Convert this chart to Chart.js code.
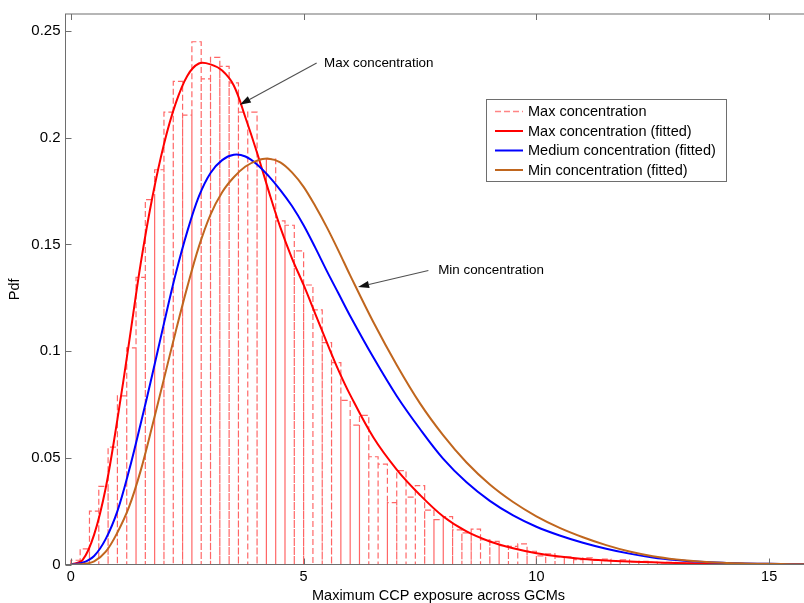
<!DOCTYPE html>
<html>
<head>
<meta charset="utf-8">
<script src="https://cdn.jsdelivr.net/npm/chart.js@4/dist/chart.umd.min.js"></script>
<style>
  html, body { margin: 0; padding: 0; background: #fff; width: 804px; height: 603px; overflow: hidden; }
  canvas { display: block; }
</style>
</head>
<body>
<canvas id="pdfChart" width="830" height="603"></canvas>
<script>
// Histogram of maximum CCP exposure (max concentration), bins of width 0.2 starting at 0
const binStart = 0;
const binWidth = 0.2;
const maxConcHist = [
  0.002, 0.0073, 0.025, 0.0366, 0.055, 0.079, 0.1015, 0.1346, 0.171, 0.185,
  0.212, 0.2264, 0.2106, 0.245, 0.2276, 0.2377, 0.2335, 0.2257, 0.212, 0.212,
  0.190, 0.190, 0.161, 0.159, 0.147, 0.131, 0.1193, 0.104, 0.0946, 0.0769,
  0.0653, 0.0699, 0.0505, 0.047, 0.029, 0.044, 0.0316, 0.037, 0.0255, 0.021,
  0.0224, 0.0162, 0.0148, 0.0166, 0.0116, 0.0108, 0.0088, 0.0085, 0.0097, 0.0062,
  0.004, 0.005, 0.0036, 0.0036, 0.0023, 0.0031, 0.002, 0.0025, 0.0018, 0.0022,
  0.0012, 0.0015, 0.001, 0.0008, 0.001, 0.0005, 0.0006, 0.0003, 0.0004, 0.0002,
  0.0002, 0.0001, 0.0001, 0.0001, 0.0001
];

// Fitted density curves, sampled at fitX
const fitX = [
  0, 0.25, 0.5, 0.75, 1, 1.25, 1.5, 1.75, 2, 2.25, 2.5, 2.75, 3, 3.25, 3.5, 3.75,
  4, 4.25, 4.5, 4.75, 5, 5.25, 5.5, 5.75, 6, 6.5, 7, 7.5, 8, 8.5, 9, 9.5,
  10, 10.5, 11, 11.5, 12, 12.5, 13, 13.5, 14, 14.5, 15, 15.5, 15.9
];
const maxConcFit = [
  0, 0.002, 0.014, 0.036, 0.068, 0.104, 0.141, 0.172, 0.197, 0.216, 0.229, 0.2348, 0.2344, 0.2315, 0.2245, 0.2095,
  0.193, 0.175, 0.158, 0.1435, 0.131, 0.1175, 0.104, 0.091, 0.0795, 0.0595, 0.0445, 0.0326, 0.0225, 0.0155, 0.0108, 0.0076,
  0.0053, 0.0037, 0.0026, 0.0019, 0.0014, 0.001, 0.0007, 0.0005, 0.0003, 0.0002, 0.00012, 0.00008, 0.00005
];
const medConcFit = [
  0, 0.0008, 0.004, 0.012, 0.025, 0.044, 0.066, 0.089, 0.113, 0.136, 0.156, 0.1725, 0.1835, 0.1895, 0.192, 0.1912,
  0.1875, 0.182, 0.1755, 0.168, 0.159, 0.1485, 0.1375, 0.127, 0.1165, 0.097, 0.079, 0.0635, 0.0495, 0.0385, 0.0298, 0.023,
  0.0177, 0.0136, 0.0102, 0.0074, 0.0051, 0.0033, 0.0021, 0.0013, 0.0008, 0.0005, 0.0003, 0.00015, 0.00008
];
const minConcFit = [
  0, 0.0002, 0.0015, 0.006, 0.015, 0.027, 0.044, 0.065, 0.087, 0.109, 0.130, 0.149, 0.164, 0.1745, 0.1815, 0.1865,
  0.1893, 0.1902, 0.1885, 0.1838, 0.177, 0.168, 0.158, 0.147, 0.1355, 0.1135, 0.0935, 0.0755, 0.0605, 0.0478, 0.0375, 0.0293,
  0.0226, 0.0172, 0.0128, 0.0091, 0.0061, 0.0039, 0.0024, 0.0014, 0.0008, 0.0005, 0.0003, 0.00015, 0.00008
];

const xTicks = [0, 5, 10, 15];
const yTicks = [0, 0.05, 0.1, 0.15, 0.2, 0.25];
const seriesLabels = [
  'Max concentration',
  'Max concentration (fitted)',
  'Medium concentration (fitted)',
  'Min concentration (fitted)'
];

const FONT = "'Liberation Sans', Arial, Helvetica, sans-serif";
const HIST_COLOR = 'rgba(255, 75, 75, 0.85)';
const FRAME_COLOR = '#6e6e6e';

// Outline of every histogram bar as one dashed path: up, across, down
const histOutline = [];
maxConcHist.forEach((h, i) => {
  const x0 = binStart + i * binWidth;
  const x1 = x0 + binWidth;
  histOutline.push({ x: x0, y: 0 }, { x: x0, y: h }, { x: x1, y: h }, { x: x1, y: 0 });
});
const curve = ys => fitX.map((x, i) => ({ x, y: ys[i] }));

// Axes box with inward tick marks
const framePlugin = {
  id: 'frame',
  afterDatasetsDraw(chart) {
    const { ctx, chartArea: a, scales: { x, y } } = chart;
    ctx.save();
    ctx.strokeStyle = FRAME_COLOR;
    ctx.lineWidth = 1;
    ctx.strokeRect(a.left, a.top, a.right - a.left, a.bottom - a.top);
    ctx.beginPath();
    xTicks.forEach(v => {
      const px = Math.round(x.getPixelForValue(v)) + 0.5;
      ctx.moveTo(px, a.bottom); ctx.lineTo(px, a.bottom - 6);
      ctx.moveTo(px, a.top); ctx.lineTo(px, a.top + 6);
    });
    yTicks.forEach(v => {
      const py = Math.round(y.getPixelForValue(v)) + 0.5;
      ctx.moveTo(a.left, py); ctx.lineTo(a.left + 6, py);
      ctx.moveTo(a.right, py); ctx.lineTo(a.right - 6, py);
    });
    ctx.stroke();
    ctx.restore();
  }
};

// Legend box and arrow call-outs
const notesPlugin = {
  id: 'notes',
  afterDraw(chart, args, opts) {
    const { ctx, scales: { x, y } } = chart;
    ctx.save();

    // arrows with text
    ctx.font = `13.4px ${FONT}`;
    ctx.textBaseline = 'middle';
    ctx.textAlign = 'left';
    opts.callouts.forEach(c => {
      const fx = x.getPixelForValue(c.from[0]), fy = y.getPixelForValue(c.from[1]);
      const tx = x.getPixelForValue(c.to[0]), ty = y.getPixelForValue(c.to[1]);
      const ang = Math.atan2(ty - fy, tx - fx);
      const headLen = 11, headHalf = 3.6;
      const bx = tx - headLen * Math.cos(ang), by = ty - headLen * Math.sin(ang);
      ctx.strokeStyle = '#505050';
      ctx.lineWidth = 1.1;
      ctx.beginPath(); ctx.moveTo(fx, fy); ctx.lineTo(bx, by); ctx.stroke();
      ctx.fillStyle = '#111';
      ctx.beginPath();
      ctx.moveTo(tx, ty);
      ctx.lineTo(bx + headHalf * Math.sin(ang), by - headHalf * Math.cos(ang));
      ctx.lineTo(bx - headHalf * Math.sin(ang), by + headHalf * Math.cos(ang));
      ctx.closePath(); ctx.fill();
      ctx.fillStyle = '#000';
      ctx.fillText(c.text, x.getPixelForValue(c.at[0]), y.getPixelForValue(c.at[1]));
    });

    // legend
    const L = opts.legend;
    ctx.fillStyle = '#fff';
    ctx.fillRect(L.left, L.top, L.width, L.height);
    ctx.strokeStyle = FRAME_COLOR;
    ctx.lineWidth = 1;
    ctx.strokeRect(L.left + 0.5, L.top + 0.5, L.width, L.height);
    ctx.font = `14.5px ${FONT}`;
    chart.data.datasets.forEach((ds, i) => {
      const ry = L.top + L.firstRow + i * L.rowStep;
      ctx.save();
      ctx.strokeStyle = ds.legendColor || ds.borderColor;
      ctx.lineWidth = ds.legendWidth || ds.borderWidth;
      ctx.setLineDash(ds.borderDash || []);
      ctx.beginPath();
      ctx.moveTo(L.left + 9, ry); ctx.lineTo(L.left + 37, ry);
      ctx.stroke();
      ctx.restore();
      ctx.fillStyle = '#000';
      ctx.fillText(ds.label, L.left + 42, ry + 0.5);
    });
    ctx.restore();
  }
};

const smooth = { showLine: true, pointRadius: 0, borderWidth: 2, tension: 0.35 };

new Chart(document.getElementById('pdfChart'), {
  type: 'scatter',
  data: {
    datasets: [
      { label: seriesLabels[0], data: histOutline, showLine: true, borderColor: HIST_COLOR,
        legendColor: 'rgba(255,120,120,0.9)', borderWidth: 1.2, borderDash: [6, 3], legendWidth: 1.5,
        pointRadius: 0, tension: 0, order: 4 },
      { ...smooth, label: seriesLabels[1], data: curve(maxConcFit), borderColor: '#ff0000', order: 3 },
      { ...smooth, label: seriesLabels[2], data: curve(medConcFit), borderColor: '#0000ff', order: 2 },
      { ...smooth, label: seriesLabels[3], data: curve(minConcFit), borderColor: '#c0661e', order: 1 }
    ]
  },
  options: {
    responsive: false,
    animation: false,
    events: [],
    layout: { padding: { left: 0, top: 10, right: 18.5, bottom: 0 } },
    scales: {
      x: {
        type: 'linear',
        min: -0.115,
        max: 15.91,
        afterFit(s) { s.height = 38.5; },
        afterBuildTicks(s) { s.ticks = xTicks.map(v => ({ value: v })); },
        grid: { display: false, drawTicks: false },
        border: { display: false },
        ticks: { color: '#000', font: { family: FONT, size: 14.5 }, padding: 4, maxRotation: 0, autoSkip: false },
        title: { display: true, text: 'Maximum CCP exposure across GCMs', color: '#000',
                 font: { family: FONT, size: 14.5, lineHeight: 1 }, padding: { top: 0, bottom: 0 } }
      },
      y: {
        type: 'linear',
        min: 0,
        max: 0.258,
        afterFit(s) { s.width = 65.5; },
        afterBuildTicks(s) { s.ticks = yTicks.map(v => ({ value: v })); },
        grid: { display: false, drawTicks: false },
        border: { display: false },
        ticks: { color: '#000', font: { family: FONT, size: 15 }, padding: 5,
                 callback: v => String(+v.toFixed(2)) },
        title: { display: true, text: 'Pdf', color: '#000',
                 font: { family: FONT, size: 14.5, lineHeight: 1 }, padding: { top: 8, bottom: 0 } }
      }
    },
    plugins: {
      legend: { display: false },
      tooltip: { enabled: false },
      notes: {
        legend: { left: 486, top: 99, width: 240, height: 82, firstRow: 12.5, rowStep: 19.5 },
        callouts: [
          { text: 'Max concentration', from: [5.28, 0.235], to: [3.63, 0.2155], at: [5.44, 0.2347] },
          { text: 'Min concentration', from: [7.68, 0.1378], to: [6.17, 0.1300], at: [7.89, 0.1379] }
        ]
      }
    }
  },
  plugins: [framePlugin, notesPlugin]
});
</script>
</body>
</html>
